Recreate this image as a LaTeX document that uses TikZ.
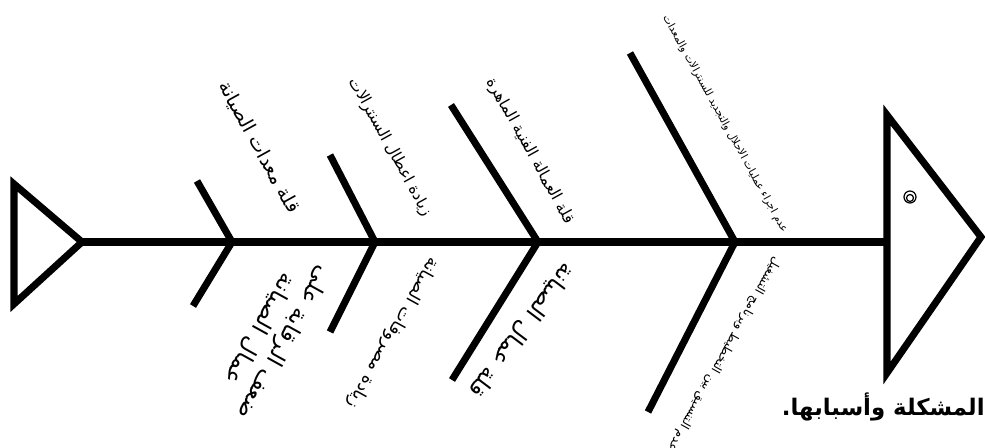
\documentclass[tikz,border=0pt]{standalone}
\usepackage{fontspec}
\newfontfamily\arabicfont[Script=Arabic]{DejaVu Sans}
\TeXXeTstate=1
\usetikzlibrary{positioning,calc}

\begin{document}
\begin{tikzpicture}[
  x=0.02cm, y=-0.02cm,
  spine/.style={draw=black, line width=4.6pt},
  bone/.style={draw=black, line width=4pt, line cap=butt},
  fin/.style={draw=black, line width=4pt, line join=miter},
  eye/.style={draw=black, line width=0.7pt},
  toplbl/.style={inner sep=0pt, font=\arabicfont\fontsize{9}{10}\selectfont, rotate=-61},
  botlbl/.style={inner sep=0pt, font=\arabicfont\fontsize{10}{12}\selectfont, rotate=-119, align=center},
  caption/.style={inner sep=0pt, font=\arabicfont\bfseries\fontsize{13}{14}\selectfont}
]
  \useasboundingbox (0,0) rectangle (985,448);

  % spine points and bone ends
  \coordinate (tailtip) at (82,242);
  \coordinate (headbase) at (887,242);
  \coordinate (j1) at (232,242);
  \coordinate (j2) at (375,242);
  \coordinate (j3) at (538,242);
  \coordinate (j4) at (735,242);
  \coordinate (t1) at (197,181);
  \coordinate (t2) at (330,155);
  \coordinate (t3) at (451,105);
  \coordinate (t4) at (630,53);
  \coordinate (b1) at (193,306);
  \coordinate (b2) at (330,332);
  \coordinate (b3) at (452,380);
  \coordinate (b4) at (648,412);

  % tail and head
  \draw[fin] (14,184) -- (tailtip) -- (14,304) -- cycle;
  \draw[fin] (887,115) -- (981,237) -- (887,373) -- cycle;
  \draw[eye] (910,197) circle (6);
  \draw[eye] (910,198) circle (3.5);

  \draw[spine] (tailtip) -- (headbase);
  \foreach \i in {1,...,4} {
    \draw[bone] (t\i) -- (j\i) -- (b\i);
  }

  % causes above the spine
  \node[toplbl, font=\arabicfont\fontsize{11}{12}\selectfont] (c1) at (259,147) {\beginR قلة معدات الصيانة\endR};
  \node[toplbl] (c2) at (390,147) {\beginR زيادة اعطال السنترالات\endR};
  \node[toplbl] (c3) at (530,151) {\beginR قلة العمالة الفنية الماهرة\endR};
  \node[toplbl, font=\arabicfont\fontsize{6}{7}\selectfont] (c4) at (725,124) {\beginR عدم اجراء عمليات الاحلال والتجديد للسنترالات والمعدات\endR};

  % causes below the spine
  \node[botlbl, font=\arabicfont\fontsize{13}{16}\selectfont] (d1) at (272,336) {\beginR ضعف الرقابة على\endR\\\beginR عمال الصيانة\endR};
  \node[botlbl] (d2) at (393,333) {\beginR زيادة مصروفات الصيانة\endR};
  \node[botlbl, font=\arabicfont\fontsize{13}{15}\selectfont, rotate=-8] (d3) at (522,330) {\beginR قلة عمال الصيانة\endR};
  \node[botlbl, font=\arabicfont\fontsize{7}{8}\selectfont] (d4) at (724,354) {\beginR عدم التنسيق بين التخطيط وبرنامج التشغيل\endR};

  \node[caption, anchor=east] (title) at (985,407) {\beginR المشكلة وأسبابها.\endR};
\end{tikzpicture}
\end{document}
